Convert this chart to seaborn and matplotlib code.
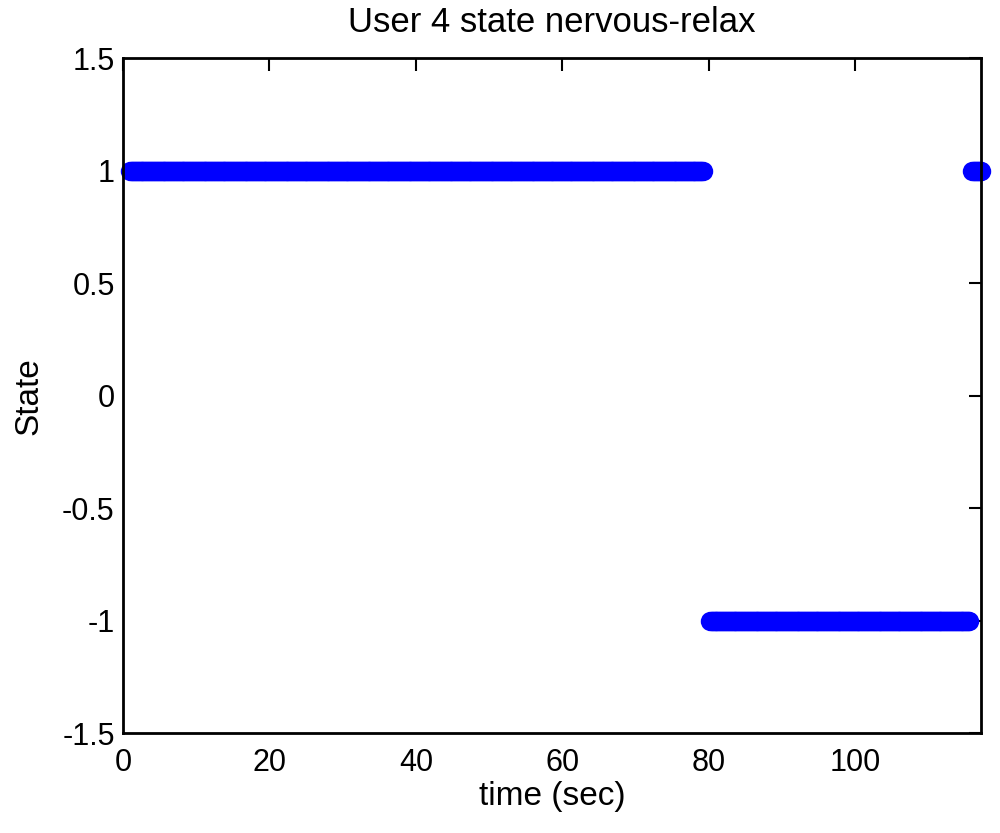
import numpy as np
import pandas as pd
import matplotlib
matplotlib.use("Agg")
import matplotlib.pyplot as plt
import seaborn as sns

# Segments of the state signal (seconds)
seg_start = [1.0, 80.2, 116.0]
seg_end = [79.2, 115.6, 117.2]
seg_state = [1, -1, 1]
sample_step = 0.2

times, states = [], []
for s, e, v in zip(seg_start, seg_end, seg_state):
    t = np.arange(s, e + 1e-9, sample_step)
    times.extend(t.tolist())
    states.extend([v] * len(t))
df = pd.DataFrame({"time": times, "state": states})

x_ticks = [0, 20, 40, 60, 80, 100]
y_ticks = [-1.5, -1, -0.5, 0, 0.5, 1, 1.5]
y_ticklabels = ["-1.5", "-1", "-0.5", "0", "0.5", "1", "1.5"]

sns.set_style("white")
plt.rcParams['font.family'] = ['Liberation Sans', 'DejaVu Sans']
plt.rcParams['text.color'] = 'black'
plt.rcParams['axes.labelcolor'] = 'black'

fig = plt.figure(figsize=(10, 8.33), dpi=100)
ax = fig.add_axes([0.123, 0.12, 0.858, 0.81])

sns.scatterplot(data=df, x="time", y="state", ax=ax, color="#0000ff",
                s=14**2, edgecolor="#0000ff", linewidth=0, legend=False,
                clip_on=False, zorder=3)

ax.set_xlim(0, 117.2)
ax.set_ylim(-1.5, 1.5)
ax.set_xticks(x_ticks)
ax.set_xticklabels([str(v) for v in x_ticks])
ax.set_yticks(y_ticks)
ax.set_yticklabels(y_ticklabels)
ax.tick_params(direction="in", length=9, width=1.5, labelsize=22,
               top=True, right=True, colors="black")
ax.tick_params(axis="x", pad=11)
ax.tick_params(axis="y", pad=6)
for sp in ax.spines.values():
    sp.set_color("black")
    sp.set_linewidth(2)
    sp.set_zorder(4)

ax.set_title("User 4 state nervous-relax", fontsize=25, pad=19, color="black")
ax.set_xlabel("time (sec)", fontsize=24, labelpad=2)
ax.set_ylabel("State", fontsize=24, labelpad=13)

fig.savefig("out.png", dpi=100)
